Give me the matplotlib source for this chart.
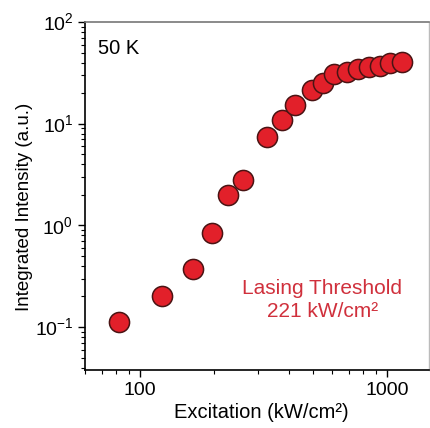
import matplotlib
matplotlib.use('Agg')
import matplotlib.pyplot as plt
from matplotlib.ticker import LogLocator, NullFormatter

plt.rcParams['font.family'] = ['Liberation Sans', 'DejaVu Sans']
plt.rcParams['mathtext.fontset'] = 'custom'
plt.rcParams['mathtext.rm'] = 'Liberation Sans'

# excitation power density (kW/cm^2) and integrated PL intensity (a.u.)
excitation = [82, 123, 164, 196, 228, 261, 326, 375, 424, 496, 552, 611,
              686, 760, 844, 934, 1032, 1154]
intensity = [0.111, 0.204, 0.373, 0.84, 2.0, 2.8, 7.35, 10.9, 15.3, 21.4,
             25.3, 30.8, 32.5, 34.3, 35.9, 36.9, 39.8, 40.4]

fig = plt.figure(figsize=(4.30, 4.28), dpi=100)
ax = fig.add_axes([0.198, 0.1355, 0.800, 0.813])

ax.plot(excitation, intensity, 'o', ms=14.5, mfc='#E2202A', mec='#4A1414',
        mew=1.1, zorder=3)

ax.set_xscale('log')
ax.set_yscale('log')
ax.set_xlim(60, 1480)
ax.set_ylim(0.0378, 100)

ax.set_xticks([100, 1000])
ax.set_xticklabels(['100', '1000'])
ax.xaxis.set_minor_locator(LogLocator(base=10, subs=range(2, 10), numticks=20))
ax.xaxis.set_minor_formatter(NullFormatter())

ax.set_yticks([0.1, 1, 10, 100])
ax.set_yticklabels(['10$^{-1}$', '10$^{0}$', '10$^{1}$', '10$^{2}$'])
ax.yaxis.set_minor_locator(LogLocator(base=10, subs=range(2, 10), numticks=20))
ax.yaxis.set_minor_formatter(NullFormatter())

ax.tick_params(axis='both', which='major', direction='out', length=5,
               width=1, labelsize=14, color='black')
ax.tick_params(axis='both', which='minor', direction='out', length=3,
               width=0.8, color='black')
ax.tick_params(top=False, right=False, which='both')

for side in ['left', 'bottom']:
    ax.spines[side].set_linewidth(1.2)
    ax.spines[side].set_color('black')
ax.spines['top'].set_color('#777777')
ax.spines['top'].set_linewidth(1.2)
ax.spines['right'].set_color('#bbbbbb')
ax.spines['right'].set_linewidth(1.0)

ax.set_xlabel('Excitation (kW/cm²)', fontsize=14.5)
ax.xaxis.set_label_coords(0.512, -0.095)
ax.set_ylabel('Integrated Intensity (a.u.)', fontsize=13.5)
ax.yaxis.set_label_coords(-0.151, 0.468)

ax.text(0.037, 0.924, '50 K', transform=ax.transAxes, fontsize=14.5,
        ha='left', va='center')
ax.text(0.689, 0.201, 'Lasing Threshold\n221 kW/cm²', transform=ax.transAxes,
        fontsize=15, color='#D0303C', ha='center', va='center',
        multialignment='center', linespacing=1.3)

fig.savefig('out.png', dpi=100)
